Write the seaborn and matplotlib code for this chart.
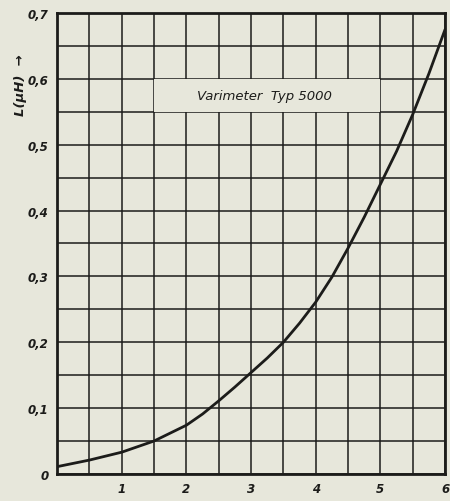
import matplotlib
matplotlib.use("Agg")
import numpy as np
import pandas as pd
import seaborn as sns
from matplotlib import pyplot as plt
from matplotlib.patches import Rectangle

# values
drehwinkel = [0, 0.5, 1, 1.5, 2, 2.25, 2.5, 2.75, 3, 3.25, 3.5, 3.75, 4, 4.25, 4.5,
              4.75, 5, 5.25, 5.5, 5.75, 6]
induktivitaet = [0.011, 0.021, 0.033, 0.05, 0.074, 0.091, 0.111, 0.132, 0.154, 0.176,
                 0.2, 0.229, 0.261, 0.299, 0.343, 0.39, 0.44, 0.49, 0.546, 0.608, 0.675]

x_ticks = [1, 2, 3, 4, 5, 6]
y_ticks = [0, 0.1, 0.2, 0.3, 0.4, 0.5, 0.6, 0.7]
y_tick_labels = ["0", "0,1", "0,2", "0,3", "0,4", "0,5", "0,6", "0,7"]
title_text = "Varimeter  Typ 5000"

bg = "#e7e7db"
ink = "#1c1c1a"

sns.set_style("white")
plt.rcParams['font.family'] = ['DejaVu Sans']

df = pd.DataFrame({"x": drehwinkel, "L": induktivitaet})

fig = plt.figure(figsize=(4.5, 5.02), dpi=100, facecolor=bg)
ax = fig.add_axes([0.127, 0.054, 0.862, 0.918])
ax.set_facecolor(bg)

sns.lineplot(data=df, x="x", y="L", ax=ax, color=ink, linewidth=2.0, zorder=5)

ax.set_xlim(0, 6)
ax.set_ylim(0, 0.7)

# grid every 0.5 / 0.05
ax.set_xticks(np.arange(0, 6.01, 0.5), minor=True)
ax.set_yticks(np.arange(0, 0.701, 0.05), minor=True)
ax.set_xticks(x_ticks)
ax.set_yticks(y_ticks)
ax.set_xticklabels([str(t) for t in x_ticks], fontsize=8.5, fontweight="bold", style="italic", color=ink)
ax.set_yticklabels(y_tick_labels, fontsize=8.5, fontweight="bold", style="italic", color=ink)
ax.grid(which="both", color=ink, linewidth=1.1)
ax.tick_params(which="both", length=0, pad=6)
ax.set_axisbelow(True)

for s in ax.spines.values():
    s.set_color(ink)
    s.set_linewidth(2.0)

ax.set_xlabel("")
ax.set_ylabel("")

# label box blanks the grid
ax.add_patch(Rectangle((1.5, 0.55), 3.5, 0.05, facecolor=bg, edgecolor="none", zorder=3))
ax.text(3.2, 0.575, title_text, ha="center", va="center", fontsize=9.5,
        style="italic", color=ink, zorder=4)

fig.text(0.045, 0.83, "L(μH)  →", rotation=90, ha="center", va="center",
         fontsize=9.5, style="italic", fontweight="bold", color=ink)

fig.savefig("out.png", dpi=100, facecolor=bg)
